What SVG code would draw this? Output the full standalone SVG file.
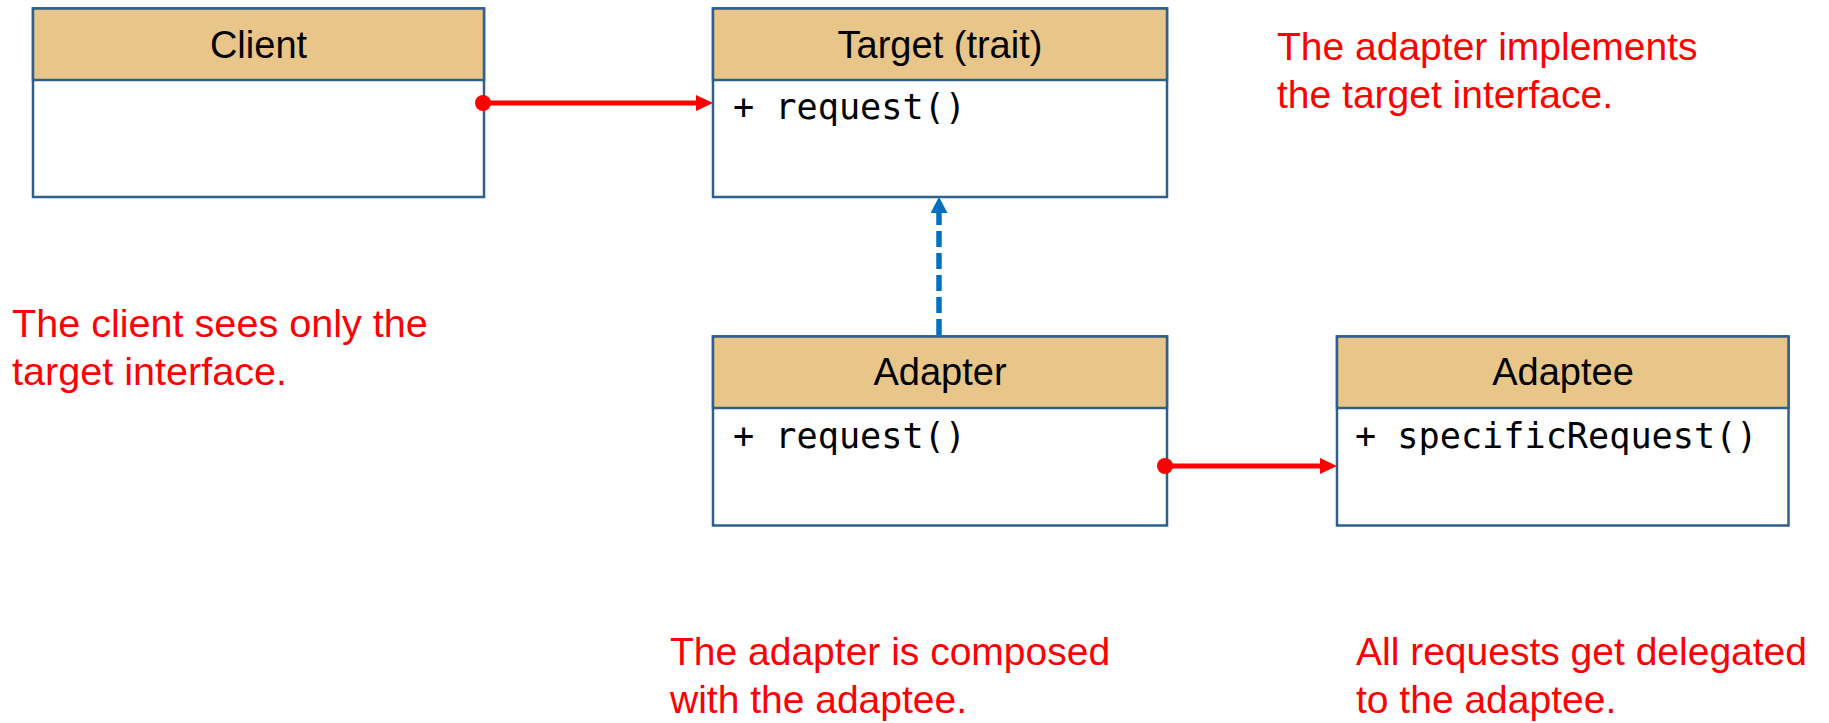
<svg xmlns="http://www.w3.org/2000/svg" width="1829" height="723" viewBox="0 0 1829 723">
  <style>
    .box { fill: #FFFFFF; stroke: #2F5F8C; stroke-width: 2.5; }
    .hdr { fill: #E8C68A; stroke: #2F5F8C; stroke-width: 2.5; }
    .title { font-family: "Liberation Sans", Arial, sans-serif; font-size: 38px; fill: #000000; text-anchor: middle; }
    .member { font-family: "DejaVu Sans Mono", "Liberation Mono", monospace; font-size: 35.2px; fill: #000000; }
    .note { font-family: "Liberation Sans", Arial, sans-serif; font-size: 39px; fill: #FF0000; }
    .assoc { stroke: #FF0000; stroke-width: 5; fill: none; }
    .impl { stroke: #0070C0; stroke-width: 5.5; fill: none; stroke-dasharray: 16 6; }
  </style>
  <defs>
    <marker id="redArrow" markerUnits="userSpaceOnUse" markerWidth="18" markerHeight="17" refX="0" refY="8" orient="auto">
      <path d="M0,0 L17,8 L0,16 Z" fill="#FF0000"/>
    </marker>
    <marker id="blueArrow" markerUnits="userSpaceOnUse" markerWidth="17" markerHeight="17" refX="0" refY="8.5" orient="auto">
      <path d="M0,0 L16,8.5 L0,17 Z" fill="#0070C0"/>
    </marker>
  </defs>

  <rect width="1829" height="723" fill="#FFFFFF"/>

  <g id="client">
    <rect class="box" x="33" y="8.5" width="451" height="188.5"/>
    <rect class="hdr" x="33" y="8.5" width="451" height="71.5"/>
    <text class="title" x="258.5" y="58">Client</text>
  </g>

  <g id="target">
    <rect class="box" x="713" y="8.5" width="454" height="188.5"/>
    <rect class="hdr" x="713" y="8.5" width="454" height="71.5"/>
    <text class="title" x="940" y="58">Target (trait)</text>
    <text class="member" x="733" y="119">+ request()</text>
  </g>

  <g id="adapter">
    <rect class="box" x="713" y="336.5" width="454" height="189"/>
    <rect class="hdr" x="713" y="336.5" width="454" height="71.5"/>
    <text class="title" x="940" y="385">Adapter</text>
    <text class="member" x="733" y="448">+ request()</text>
  </g>

  <g id="adaptee">
    <rect class="box" x="1337" y="336.5" width="451.5" height="189"/>
    <rect class="hdr" x="1337" y="336.5" width="451.5" height="71.5"/>
    <text class="title" x="1563" y="385">Adaptee</text>
    <text class="member" x="1355" y="448">+ specificRequest()</text>
  </g>

  <g id="connectors">
    <line class="assoc" x1="483" y1="103" x2="696" y2="103" marker-end="url(#redArrow)"/>
    <circle cx="483" cy="103" r="8" fill="#FF0000"/>
    <line class="impl" x1="939" y1="335" x2="939" y2="213" marker-end="url(#blueArrow)"/>
    <line class="assoc" x1="1165" y1="466" x2="1320" y2="466" marker-end="url(#redArrow)"/>
    <circle cx="1165" cy="466" r="8" fill="#FF0000"/>
  </g>

  <g id="notes">
    <text class="note" x="1277" y="60">The adapter implements</text>
    <text class="note" x="1277" y="108">the target interface.</text>
    <text class="note" x="12" y="337" style="font-size:39.6px">The client sees only the</text>
    <text class="note" x="12" y="385" style="font-size:39.6px">target interface.</text>
    <text class="note" x="670" y="665">The adapter is composed</text>
    <text class="note" x="670" y="713">with the adaptee.</text>
    <text class="note" x="1356" y="665">All requests get delegated</text>
    <text class="note" x="1356" y="713">to the adaptee.</text>
  </g>
</svg>
